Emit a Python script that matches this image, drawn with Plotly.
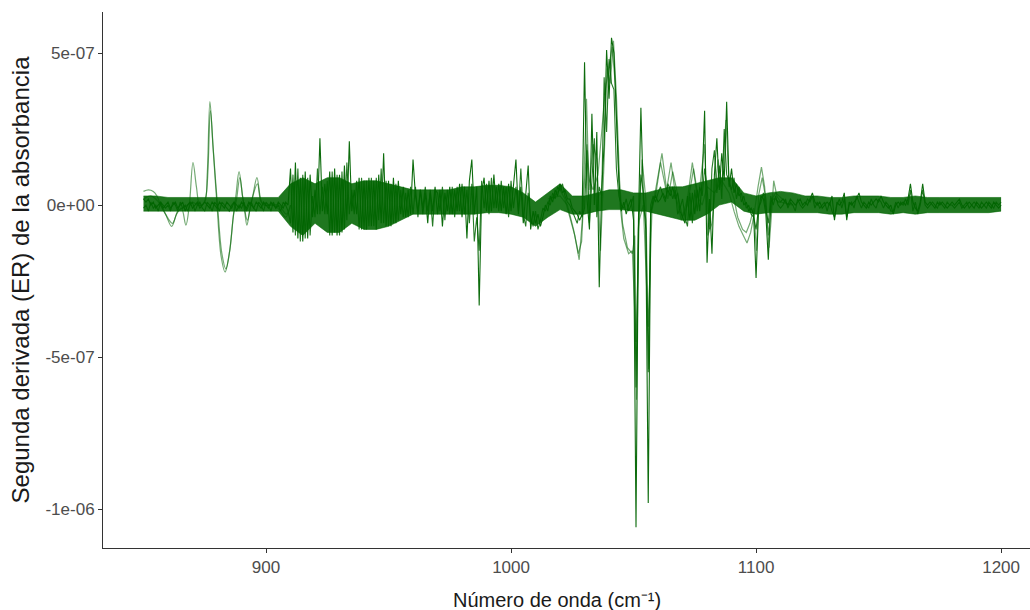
import plotly.graph_objects as go

# Valores de la segunda derivada en unidades de 1e-8
ESCALA = 1e-8

# Rejilla de número de onda (cm-1) para los espectros principales
numero_onda = list(range(850, 1201))

espectro_a = [
    2, 1, 2, 0, 1, -1, 0, 1, -1, 0,            # 850
    1, -1, 0, 1, -1, 0, 1, -2, 0, 1,           # 860
    -1, 0, 1, -1, 0, 1, 0, -1, 1, 0,           # 870
    -1, 1, 0, -1, 1, 0, -1, 1, 0, -1,          # 880
    1, 0, -1, 1, 0, -1, 1, 0, -1, 1,           # 890
    0, -1, 1, 0, -1, 1, 0, -1, 1, 0,           # 900
    12, -9, 14, -11, 9, -12, 11, -11, 10, -4,  # 910
    5, -3, 22, -2, 7, -3, 11, -10, 12, -10,    # 920
    10, -9, 13, -5, 21, -2, 5, -3, 9, -8,      # 930
    8, -8, 9, -7, 8, -8, 10, -6, 17, -7,       # 940
    8, -7, 9, -6, 8, -3, 6, -4, 5, -3,         # 950
    15, 3, -2, 5, -3, 4, -6, 5, -2, 6,         # 960
    -3, 5, -7, 4, -2, 6, -3, 5, -2, 7,         # 970
    -4, 6, -11, 8, 15, -3, 6, -33, 4, 9,       # 980
    -2, 8, -2, 10, -1, 7, -2, 6, -3, 7,        # 990
    -2, 8, 15, -3, 6, -6, 5, 13, -8, -2,       # 1000
    -6, -3, -7, -4, 0, -2, 3, 1, 5, 3,         # 1010
    7, 4, 5, 2, 2, -1, -2, -3, -5, -3,         # 1020
    47, 2, -8, 30, 0, 24, -27, 5, 20, 51,      # 1030
    35, 55, 50, 30, 8, -2, 1, -3, 0, 2,        # 1040
    -5, -106, -5, 32, 2, -8, -98, -3, 2, 3,    # 1050
    1, 2, 4, 2, 5, 3, 6, 2, 4, -2,             # 1060
    -4, -6, 3, -5, 4, -3, 5, -2, 8, 31,        # 1070
    -19, 2, -16, 10, 22, 5, 17, 8, 34, 6,      # 1080
    12, 4, 7, 3, 4, 0, 1, -2, -1, -3,          # 1090
    -24, -2, 3, 2, -3, -18, 1, 2, 2, 1,        # 1100
    1, 2, 1, 0, 2, 1, 0, 1, 2, 0,              # 1110
    1, 0, 2, 4, 1, 0, 1, -1, 0, 1,             # 1120
    0, 3, -5, 1, 0, 1, 4, -5, 1, 0,            # 1130
    1, 2, 4, 1, 0, -1, 1, 0, 1, 2,             # 1140
    1, 3, 1, 0, -1, 0, -3, 0, 1, 0,            # 1150
    1, 0, 2, 7, 1, -1, -2, 1, 7, 1,            # 1160
    0, 1, 0, -1, 1, 0, 1, 0, -1, 0,            # 1170
    1, 0, 1, 2, 0, -1, 0, 1, 0, -1,            # 1180
    1, 0, -1, 0, 1, 0, -1, 1, 0, -1,           # 1190
    0,                                         # 1200
]

espectro_b = [
    -1, 0, -2, 1, -1, 0, -2, 1, 0, -1,         # 850
    0, -2, 1, 0, -2, 1, -1, 0, -2, 0,          # 860
    1, -2, 0, 1, -1, -2, 1, 0, -2, 1,          # 870
    0, -2, 1, 0, -1, -2, 0, 1, -2, 0,          # 880
    -1, 1, -2, 0, 1, -1, -2, 1, 0, -2,         # 890
    1, 0, -2, 1, -1, 0, -2, 1, 0, -2,          # 900
    -6, 10, -10, 12, -12, 10, -11, 9, -10, 3,  # 910
    -4, 12, -3, 6, -3, 8, -10, 11, -9, 10,     # 920
    -10, 11, -8, 14, -3, 5, -3, 8, -8, 9,      # 930
    -8, 8, -7, 9, -7, 9, -5, 12, -6, 8,        # 940
    -7, 7, -6, 7, -5, 5, -4, 4, -4, 6,         # 950
    -3, 6, -4, 5, -1, 6, -2, 4, -7, 5,         # 960
    4, -2, 6, -5, 5, -3, 6, -4, 6, -2,         # 970
    7, -3, 5, -6, 7, -12, -4, -15, 8, -1,      # 980
    7, -3, 9, -1, 6, -2, 8, -1, 6, -4,         # 990
    8, -1, 6, -2, 12, -3, -7, 4, -4, -7,       # 1000
    -2, -8, -5, -1, -2, 1, 0, 4, 2, 6,         # 1010
    5, 7, 3, 1, 0, -2, -4, -6, -2, -4,         # 1020
    -1, 18, -6, 8, 22, -4, 6, 3, 42, 24,       # 1030
    48, 40, 38, 12, 3, 0, -1, 2, -2, 0,        # 1040
    3, -60, -7, 10, 4, -5, -55, 0, 3, 1,       # 1050
    4, 6, 3, 1, 7, 5, 2, 5, -3, -1,            # 1060
    2, -4, -7, 4, -6, 5, -2, 6, 3, 12,         # 1070
    6, -8, 12, 18, 4, 13, 2, 25, 10, 8,        # 1080
    5, 9, 2, 6, 1, 3, -1, 0, -3, -4,           # 1090
    -8, -1, 1, 4, -1, -6, 3, 0, 3, 0,          # 1100
    -1, 0, 2, -1, 1, 0, -2, 2, 0, -1,          # 1110
    0, 2, 1, 3, -1, 1, -1, 0, 1, -2,           # 1120
    1, -2, -4, 0, 2, -1, 2, -4, 0, 1,          # 1130
    -1, 3, 1, -1, 1, 0, -1, 2, 0, -1,          # 1140
    2, 1, -1, 1, 0, -2, -2, 1, -1, 1,          # 1150
    0, 2, 0, 5, -2, 1, -3, 0, 5, 0,            # 1160
    -1, 0, 1, 0, -1, 1, 0, -1, 1, 0,           # 1170
    0, -1, 0, 1, -1, 0, 1, -1, 0, 1,           # 1180
    0, -1, 1, 0, -1, 1, 0, -1, 1, 0,           # 1190
    1,                                         # 1200
]

# Dispersión del conjunto de réplicas (límites superior e inferior cada 5 cm-1)
onda_banda = list(range(850, 1201, 5))
banda_sup = [
    3, 3, 2.5, 2.5, 2.5, 2.5, 2.5, 2.5, 2.5, 2.5,
    2.5, 2.5, 7, 9, 7, 9, 9, 7, 8, 8,
    7, 6, 5, 5, 5, 5, 6, 6, 6.5, 6.5,
    6, 4, 1, 4, 7, 3, 3, 4, 5, 5,
    4, 4, 5, 6, 6, 7, 8, 9, 9, 4,
    3, 4, 4.5, 4, 3, 3, 2.5, 2.5, 3, 3,
    3, 2.5, 2.5, 3, 2.5, 2.5, 2.5, 2.5, 2.5, 2.5,
    2.5,
]
banda_inf = [
    -2, -2, -2, -2, -2, -2, -2, -2, -2, -2,
    -2, -2, -7, -10, -6, -9, -9, -6, -8, -8,
    -7, -5, -3, -3, -3, -3, -3, -3, -2.5, -2.5,
    -3, -4, -7, -4, -1.5, -3, -3, -2, -1.5, -1.5,
    -2, -2, -3, -4, -5, -5, -3, 0, 1, -2,
    -3, -2.5, -2.5, -2.5, -2.5, -2.5, -3, -3, -2.5, -2.5,
    -2.5, -3, -2.5, -3, -2.5, -2.5, -2.5, -2.5, -2.5, -2.5,
    -2,
]

# Réplicas atípicas (bandas anchas entre 850 y 910 cm-1)
onda_atipico_a = [850, 852, 854, 855.5, 857, 859, 861.5, 863.5, 865.5, 867.3,
                  868.7, 870.2, 871.6, 873, 875, 876, 877.1, 878.3, 880, 881.7,
                  883.3, 885, 886.6, 887.7, 889, 890.4, 891.3, 892.2, 893.3, 894.6,
                  896.3, 897.8, 899, 903, 906, 908, 910]
atipico_a = [4.5, 5, 4.5, 3, 0, -3, -7, -3, -1, -6.6,
             0, 14, 6, 0, 1, 10, 34, 20, 0, -17,
             -22, -16, -4, 3, 11, 3, -2, -6.6, -2, 3,
             9, 2, 0, 0, -2, -4, 0]

onda_atipico_b = [850, 853, 855, 857, 859, 861.8, 864, 866, 868, 870,
                  872, 874, 875.5, 877.3, 878.5, 880.2, 882, 883.6, 885.2, 886.8,
                  888, 889.3, 890.6, 892.4, 894, 896.5, 898, 900, 905, 908.3,
                  910]
atipico_b = [2, 3, 2, 0, -3, -6, -2, -1, 0, 1,
             0, 0, 3, 31, 18, 0, -16, -21, -15, -3,
             2, 9, 2, -5, 1, 7, 1, 0, 0, -3,
             0]

# Réplicas atípicas entre 1015 y 1115 cm-1
onda_atipico_c = [1015, 1020, 1023, 1025.5, 1027.5, 1028.8, 1030, 1031, 1032, 1033.5,
                  1035.5, 1037, 1038.5, 1040, 1041.3, 1042.5, 1043.5, 1044.5, 1046, 1048,
                  1049.5, 1051, 1052.3, 1054, 1056, 1057.5, 1059, 1061.6, 1063.5, 1065.3,
                  1067, 1069.5, 1072, 1074, 1076, 1078, 1080, 1083, 1086, 1089,
                  1091, 1093, 1094.8, 1096.3, 1097.8, 1099.2, 1100.8, 1102.2, 1103.5, 1104.5,
                  1105.3, 1106.2, 1107.2, 1108.5, 1110, 1115]
atipico_c = [2, 3, 0, -8, -16, -12, 8, 20, 8, 5,
             10, 25, 38, 46, 52, 40, 18, 0, -11, -16,
             -15, -45, -5, 0, -40, -2, 5, 17, 5, 14,
             4, -5, 2, 14, 3, 0, 6, 4, 8, 4,
             -2, -7, -10, -12.5, -9, -3, 6, 12.5, 6, -4,
             -14, -4, 8, 3, 1, 0]

onda_atipico_d = [1015, 1020, 1022, 1024, 1026, 1027.8, 1029, 1030, 1030.8, 1031.8,
                  1033.5, 1035, 1036.5, 1038, 1039.2, 1040.5, 1041.8, 1043, 1044.3, 1045.5,
                  1047.5, 1049.5, 1050.5, 1051.2, 1052, 1053.5, 1055, 1056.2, 1057, 1059,
                  1061, 1062.5, 1064, 1066, 1068, 1070, 1072, 1074.5, 1076.5, 1079,
                  1080.3, 1082, 1084.5, 1086, 1087.7, 1089, 1091, 1092.5, 1094.5, 1096,
                  1097.5, 1099, 1100.2, 1101, 1102.5, 1104, 1105, 1106.5, 1108, 1112]
atipico_d = [1, 5, 2, -4, -10, -18, -6, 15, 35, 5,
             20, 15, -15, 15, 45, 40, 54, 36, 8, -6,
             -14, -16, -10, -64, -8, 15, 2, -54, -2, 3,
             14, 8, 2, 11, 3, -4, 0, 12, 2, 20,
             -10, -6, 15, 6, 28, 7, 2, -4, -8, -9,
             -6, -1, -15, 3, 9, 2, -10, 2, 4, 1]

TICKS_Y = [5e-7, 0, -5e-7, -1e-6]
ETIQUETAS_Y = ["5e-07", "0e+00", "-5e-07", "-1e-06"]
TICKS_X = [900, 1000, 1100, 1200]

VERDE = "0,100,0"


def escalar(valores):
    return [v * ESCALA for v in valores]


fig = go.Figure()

# Banda de réplicas
fig.add_trace(go.Scatter(x=onda_banda, y=escalar(banda_inf), mode="lines",
                         line=dict(color=f"rgba({VERDE},0.55)", width=1, shape="linear"),
                         hoverinfo="skip"))
fig.add_trace(go.Scatter(x=onda_banda, y=escalar(banda_sup), mode="lines",
                         line=dict(color=f"rgba({VERDE},0.55)", width=1, shape="linear"),
                         fill="tonexty", fillcolor=f"rgba({VERDE},0.88)",
                         hoverinfo="skip"))

# Réplicas atípicas
for xs, ys, forma in [
    (onda_atipico_a, atipico_a, "spline"),
    (onda_atipico_b, atipico_b, "spline"),
    (onda_atipico_c, atipico_c, "linear"),
    (onda_atipico_d, atipico_d, "linear"),
]:
    fig.add_trace(go.Scatter(x=xs, y=escalar(ys), mode="lines",
                             line=dict(color=f"rgba({VERDE},0.55)", width=1.2, shape=forma)))

# Espectros principales
fig.add_trace(go.Scatter(x=numero_onda, y=escalar(espectro_b), mode="lines",
                         line=dict(color=f"rgba({VERDE},0.85)", width=1.1)))
fig.add_trace(go.Scatter(x=numero_onda, y=escalar(espectro_a), mode="lines",
                         line=dict(color=f"rgba({VERDE},0.95)", width=1.1)))

eje = dict(showline=True, linecolor="#333333", linewidth=1, ticks="outside",
           ticklen=4, tickcolor="#333333", showgrid=False, zeroline=False,
           tickfont=dict(size=17, color="#4d4d4d"))

fig.update_layout(
    width=1030, height=610,
    margin=dict(l=103, r=0, t=12, b=62),
    plot_bgcolor="white", paper_bgcolor="white",
    showlegend=False,
    font=dict(family="Liberation Sans, Arial, sans-serif"),
    xaxis=dict(range=[833.47, 1211.8], tickvals=TICKS_X, **eje),
    yaxis=dict(range=[-1.128e-6, 6.35e-7], tickvals=TICKS_Y, ticktext=ETIQUETAS_Y,
               title=dict(text="Segunda derivada (ER) de la absorbancia",
                          font=dict(size=24, color="#1a1a1a"), standoff=9),
               **eje),
    annotations=[dict(
        text="Número de onda (cm⁻¹)", xref="paper", yref="paper",
        x=0.49, y=-0.097, xanchor="center", yanchor="middle", showarrow=False,
        font=dict(size=20, color="#1a1a1a"),
    )],
)

fig.write_html("out.html")
